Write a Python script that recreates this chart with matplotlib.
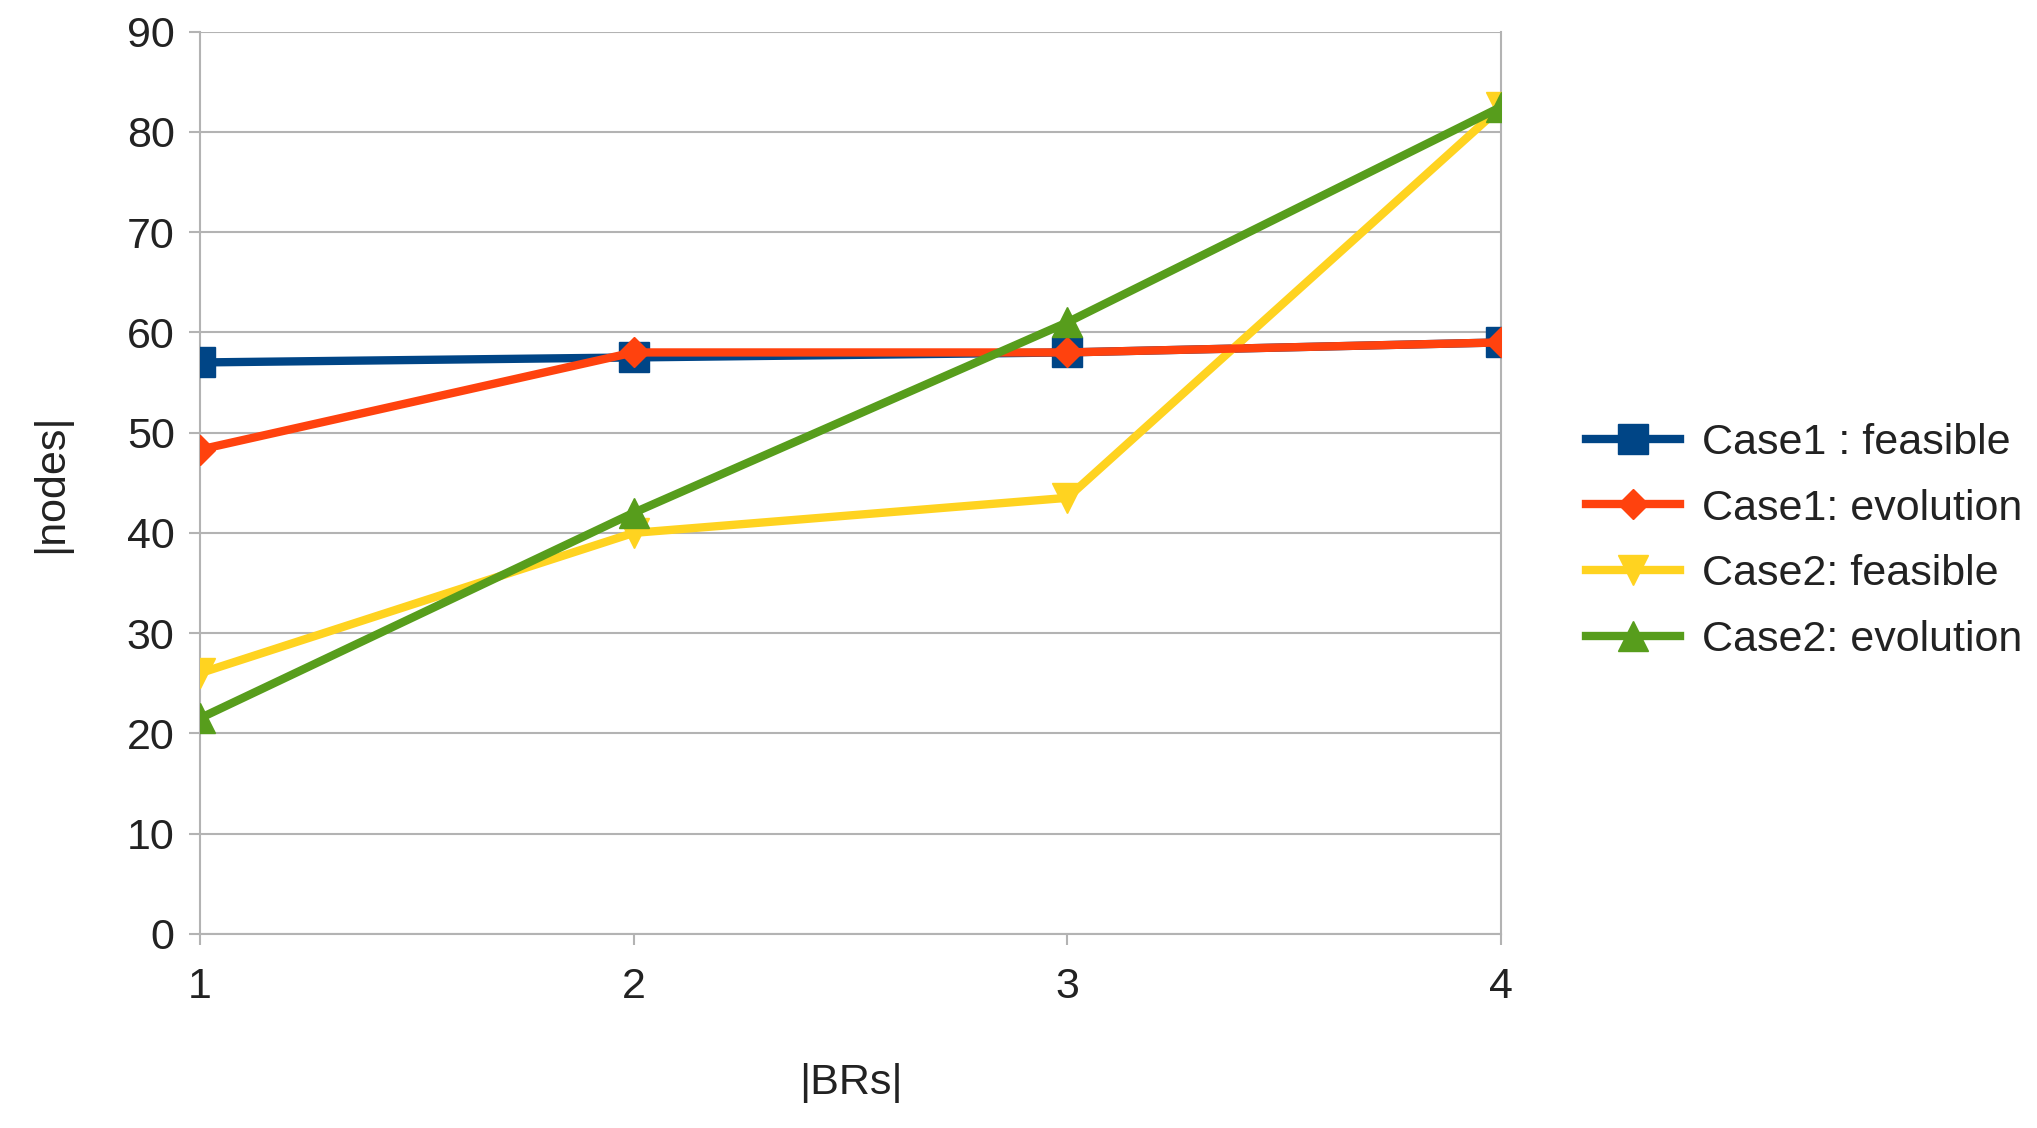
import matplotlib
matplotlib.use("Agg")
import matplotlib.pyplot as plt

x = [1, 2, 3, 4]
c1_feasible = [57, 57.5, 58, 59]
c1_evolution = [48.3, 58, 58, 59]
c2_feasible = [26, 40, 43.5, 82.5]
c2_evolution = [21.5, 42, 61, 82.5]
labels = ["Case1 : feasible", "Case1: evolution", "Case2: feasible", "Case2: evolution"]

plt.rcParams['font.family'] = ['Liberation Sans', 'DejaVu Sans']
fig = plt.figure(figsize=(20.37, 11.28), dpi=100)
ax = fig.add_axes([0.098, 0.172, 0.639, 0.8])

ax.plot(x, c1_feasible, color='#004586', lw=6, marker='s', ms=22, label=labels[0], zorder=3)
ax.plot(x, c1_evolution, color='#ff420e', lw=6, marker='D', ms=15, label=labels[1], zorder=4)
ax.plot(x, c2_feasible, color='#ffd320', lw=6, marker='v', ms=22, label=labels[2], zorder=3)
ax.plot(x, c2_evolution, color='#579d1c', lw=6, marker='^', ms=22, label=labels[3], zorder=5)

ax.set_xlim(1, 4)
ax.set_ylim(0, 90)
ax.set_xticks(x)
ax.set_yticks(range(0, 91, 10))
ax.yaxis.grid(True, color='#b3b3b3', lw=1.5)
ax.spines['top'].set_visible(False)
for s in ['left', 'right', 'bottom']:
    ax.spines[s].set_color('#b3b3b3')
    ax.spines[s].set_linewidth(1.5)
ax.tick_params(axis='both', labelsize=31, color='#b3b3b3', length=8, width=1.5, pad=10, labelcolor='#222222')
ax.tick_params(axis='x', pad=16)
ax.set_xlabel('|BRs|', fontsize=31, labelpad=40, color='#222222')
ax.set_ylabel('|nodes|', fontsize=31, labelpad=40, color='#222222')

fig.legend(loc='center left', bbox_to_anchor=(0.77, 0.52), frameon=False, fontsize=31,
           handlelength=2.2, labelspacing=0.6, borderaxespad=0, handletextpad=0.5,
           labelcolor='#222222')
fig.savefig('out.png')
